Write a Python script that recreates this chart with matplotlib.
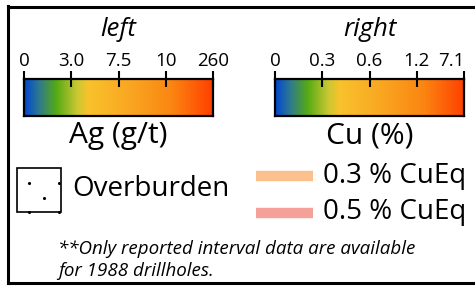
import matplotlib.pyplot as plt
import numpy as np
from matplotlib.colors import LinearSegmentedColormap
from matplotlib.patches import Rectangle

plt.rcParams['font.family'] = ['Open Sans', 'DejaVu Sans']

# legend content
ag_ticks = ['0', '3.0', '7.5', '10', '260']
cu_ticks = ['0', '0.3', '0.6', '1.2', '7.1']
bar_titles = ['left', 'right']
bar_units = ['Ag (g/t)', 'Cu (%)']
grade_labels = ['0.3 % CuEq', '0.5 % CuEq']
grade_colors = ['#fbc08c', '#f6a09a']
note_lines = ['**Only reported interval data are available', 'for 1988 drillholes.']

stops = [(0.0, '#0047d4'), (0.08, '#2f7a8c'), (0.17, '#55aa14'), (0.28, '#c9c832'),
         (0.34, '#f9c22c'), (0.55, '#f9a822'), (0.78, '#fb8612'), (1.0, '#ff4000')]
cmap = LinearSegmentedColormap.from_list('grade', stops)

W, H = 475, 286
fig = plt.figure(figsize=(W / 100, H / 100), dpi=100)
ax = fig.add_axes([0, 0, 1, 1])
ax.set_xlim(0, W)
ax.set_ylim(H, 0)
ax.axis('off')

# frame (left, top, bottom)
ax.plot([8, 8], [6, 283], color='k', lw=2.2)
ax.plot([8, W], [6.5, 6.5], color='k', lw=2.2)
ax.plot([8, W], [283, 283], color='k', lw=2.2)

# ---------------- colour bars ----------------
for i, (ticks, title, unit) in enumerate(zip([ag_ticks, cu_ticks], bar_titles, bar_units)):
    x0 = [24, 275][i]
    cax = fig.add_axes([x0 / W, 1 - 116 / H, 189 / W, 37 / H])
    grad = np.linspace(0, 1, 256).reshape(1, -1)
    cax.imshow(grad, cmap=cmap, aspect='auto', extent=[0, len(ticks) - 1, 0, 1])
    cax.set_xticks(range(len(ticks)), ticks)
    cax.set_yticks([])
    cax.xaxis.tick_top()
    cax.tick_params(axis='x', direction='inout', length=11.5, width=1.5, pad=1, labelsize=13.5)
    if i == 1:
        # last label sits against the image edge
        cax.get_xticklabels()[-1].set_ha('right')
    for s in cax.spines.values():
        s.set_linewidth(1.6)
    cx = x0 + 94.5
    ax.text(cx, 30, title, style='italic', fontsize=18.5, ha='center', va='center')
    ax.text(cx, 136, unit, fontsize=21.5, ha='center', va='center')

# ---------------- overburden ----------------
ax.add_patch(Rectangle((17, 168), 44, 44, fill=False, lw=1.2, ec='k'))
ax.scatter([29, 59, 44, 29, 59], [183, 183, 198, 212, 212], s=1.5, color='k')
ax.text(72, 189, 'Overburden', fontsize=20, va='center')

# ---------------- CuEq lines ----------------
for j, (lab, col) in enumerate(zip(grade_labels, grade_colors)):
    y = 176 + 36.5 * j
    ax.plot([256, 313], [y, y], color=col, lw=7.5, solid_capstyle='butt')
    ax.text(323, y, lab, fontsize=20, va='center')

for k, line in enumerate(note_lines):
    ax.text(58, 249 + 22 * k, line, style='italic', fontsize=13.5, va='center')

plt.savefig('out.png', dpi=100)
